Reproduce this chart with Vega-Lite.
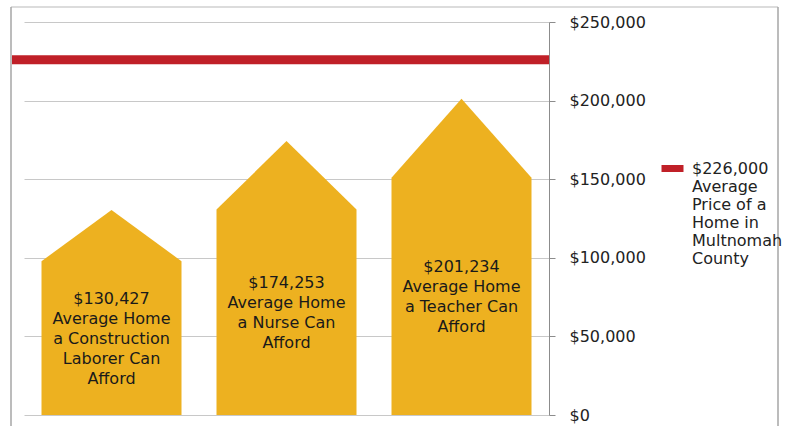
{
  "$schema": "https://vega.github.io/schema/vega-lite/v6.json",
  "width": 525,
  "height": 393,
  "autosize": {"type": "none"},
  "padding": {"left": 24, "top": 22, "right": 237, "bottom": 11},
  "background": "white",
  "config": {"view": {"stroke": null}, "font": "DejaVu Sans"},
  "datasets": {
    "houses": [
      {"job": "Construction Laborer", "pos": 0.1, "price": 97820},
      {"job": "Construction Laborer", "pos": 0.5, "price": 130427},
      {"job": "Construction Laborer", "pos": 0.9, "price": 97820},
      {"job": "Nurse", "pos": 1.1, "price": 130690},
      {"job": "Nurse", "pos": 1.5, "price": 174253},
      {"job": "Nurse", "pos": 1.9, "price": 130690},
      {"job": "Teacher", "pos": 2.1, "price": 150926},
      {"job": "Teacher", "pos": 2.5, "price": 201234},
      {"job": "Teacher", "pos": 2.9, "price": 150926}
    ],
    "labels": [
      {"job": "Construction Laborer", "pos": 0.5, "wall": 97820, "lines": 5, "label": "$130,427|Average Home|a Construction|Laborer Can|Afford"},
      {"job": "Nurse", "pos": 1.5, "wall": 130690, "lines": 4, "label": "$174,253|Average Home|a Nurse Can|Afford"},
      {"job": "Teacher", "pos": 2.5, "wall": 150926, "lines": 4, "label": "$201,234|Average Home|a Teacher Can|Afford"}
    ],
    "county": [
      {"series": "$226,000|Average|Price of a|Home in|Multnomah|County", "price": 226000}
    ]
  },
  "layer": [
    {
      "data": {"name": "houses"},
      "mark": {"type": "area", "color": "#EDB120"},
      "encoding": {
        "x": {"field": "pos", "type": "quantitative", "scale": {"domain": [0, 3], "nice": false, "zero": false}, "axis": null},
        "y": {
          "field": "price", "type": "quantitative",
          "scale": {"domain": [0, 250000], "nice": false},
          "axis": {
            "orient": "right", "title": null,
            "values": [0, 50000, 100000, 150000, 200000, 250000],
            "format": "$,.0f",
            "labelFont": "DejaVu Sans", "labelFontSize": 16, "labelColor": "#222222",
            "domainColor": "#8c8c8c", "tickColor": "#8c8c8c", "tickSize": 6,
            "labelPadding": 14, "grid": true, "gridColor": "#c8c8c8"
          }
        },
        "y2": {"datum": 0},
        "detail": {"field": "job"}
      }
    },
    {
      "data": {"name": "labels"},
      "transform": [{"filter": "datum.lines == 5"}, {"calculate": "datum.wall / 2", "as": "mid"}],
      "mark": {"type": "text", "lineBreak": "|", "baseline": "middle", "align": "center", "fontSize": 16, "lineHeight": 20, "dy": -39, "color": "#1a1a1a", "font": "DejaVu Sans"},
      "encoding": {
        "x": {"field": "pos", "type": "quantitative"},
        "y": {"field": "mid", "type": "quantitative"},
        "text": {"field": "label"}
      }
    },
    {
      "data": {"name": "labels"},
      "transform": [{"filter": "datum.lines == 4"}, {"calculate": "datum.wall / 2", "as": "mid"}],
      "mark": {"type": "text", "lineBreak": "|", "baseline": "middle", "align": "center", "fontSize": 16, "lineHeight": 20, "dy": -29, "color": "#1a1a1a", "font": "DejaVu Sans"},
      "encoding": {
        "x": {"field": "pos", "type": "quantitative"},
        "y": {"field": "mid", "type": "quantitative"},
        "text": {"field": "label"}
      }
    },
    {
      "data": {"name": "county"},
      "mark": {"type": "rule", "strokeWidth": 9},
      "encoding": {
        "x": {"datum": -0.0686},
        "x2": {"datum": 3},
        "y": {"field": "price", "type": "quantitative"},
        "color": {
          "field": "series", "type": "nominal",
          "scale": {"range": ["#C02028"]},
          "legend": {
            "orient": "none", "legendX": 634, "legendY": 132, "title": null,
            "symbolType": "stroke", "symbolSize": 484, "symbolStrokeWidth": 7,
            "labelFont": "DejaVu Sans", "labelFontSize": 16, "labelColor": "#222222",
            "labelExpr": "split(datum.label, '|')", "labelLimit": 0, "labelBaseline": "middle",
            "labelOffset": 5, "padding": 0
          }
        }
      }
    },
    {
      "data": {"values": [{}]},
      "mark": {"type": "rule", "strokeWidth": 1.5, "color": "#d0d0d0"},
      "encoding": {
        "x": {"datum": -0.0743},
        "x2": {"datum": 4.3086},
        "y": {"datum": 259500}
      }
    },
    {
      "data": {"values": [{"side": -0.0743}, {"side": 4.3086}]},
      "mark": {"type": "rule", "strokeWidth": 1.5, "color": "#a6a6a6"},
      "encoding": {
        "x": {"field": "side", "type": "quantitative"},
        "y": {"datum": 259500},
        "y2": {"datum": -12000}
      }
    }
  ]
}
